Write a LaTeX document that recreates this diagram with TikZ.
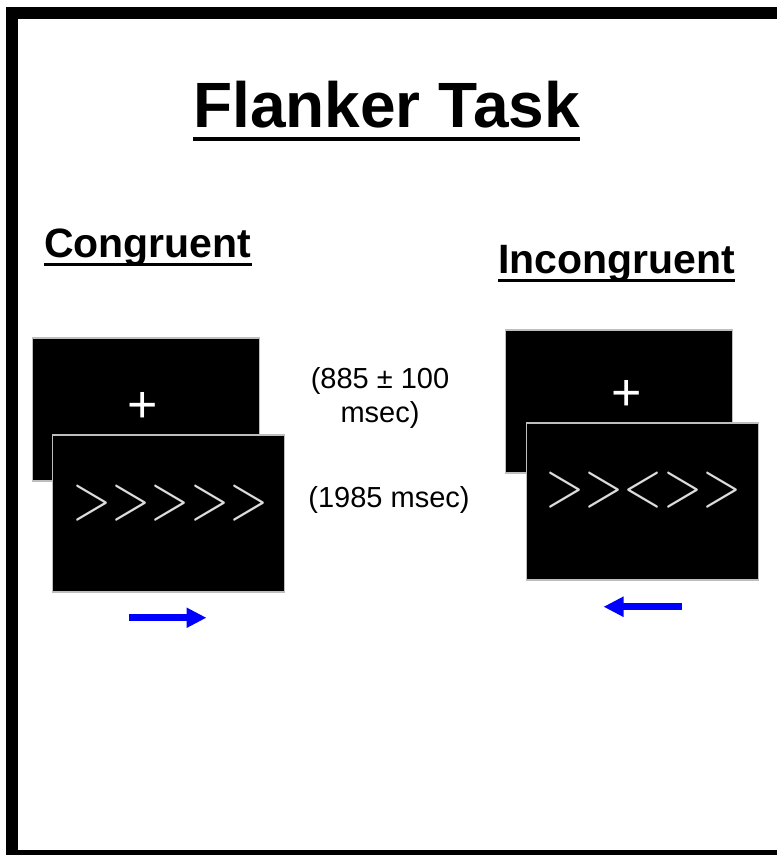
\documentclass[tikz,border=0pt]{standalone}
\usepackage{fontspec}
\setmainfont{Liberation Sans}
\usetikzlibrary{arrows.meta, positioning}
\definecolor{flankerblue}{RGB}{0,0,255}
\definecolor{screenedge}{RGB}{190,190,190}
\definecolor{chevgray}{RGB}{220,220,220}
\newcommand{\rgt}{>\kern0pt}
\newcommand{\lft}{<\kern0pt}

\begin{document}
\begin{tikzpicture}[x=1pt, y=-1pt,
  screen/.style={draw=screenedge, fill=black, line width=1.5pt, inner sep=0pt},
  backscreen/.style={screen, minimum width=227pt, minimum height=143pt},
  frontscreen/.style={screen, minimum width=232pt, minimum height=157pt, anchor=north west},
  heading/.style={font=\bfseries\fontsize{41}{41}\selectfont, inner sep=0pt, anchor=base west},
  timing/.style={font=\fontsize{29}{34}\selectfont, align=center, inner sep=0pt},
  fixcross/.style={text=white, font=\fontsize{52}{52}\selectfont, inner sep=0pt},
  flankers/.style={text=chevgray, inner sep=0pt, font=\fontfamily{lmr}\fontsize{57}{57}\selectfont},
  response/.style={draw=flankerblue, line width=7pt, -{Triangle[length=20pt, width=19pt]}},
  uline/.style={line width=3pt}
]
\useasboundingbox (0,0) rectangle (777,855);
\clip (0,0) rectangle (777,855);
\draw[line width=12pt] (12,13) rectangle (800,856);

% titles
\node[heading, font=\bfseries\fontsize{64}{64}\selectfont] (title) at (193,127) {Flanker Task};
\draw[line width=4pt] ([yshift=-12pt]title.base west) -- ([yshift=-12pt]title.base east);
\node[heading] (congr) at (44,257) {Congruent};
\draw[uline] ([yshift=-7pt]congr.base west) -- ([yshift=-7pt]congr.base east);
\node[heading] (incongr) at (498,273) {Incongruent};
\draw[uline] ([yshift=-7pt]incongr.base west) -- ([yshift=-7pt]incongr.base east);

% congruent trial
\node[backscreen] (cfix) at (146,409.5) {};
\node[fixcross] (cplus) at ([shift={(-3,-2)}]cfix.center) {+};
\node[frontscreen] (cstim) at ([shift={(20,97)}]cfix.north west) {};
\node[flankers] (cflank) at ([shift={(2,-10)}]cstim.center) {\scalebox{0.9}[1.15]{\rgt\rgt\rgt\rgt\rgt}};
\coordinate (cresp0) at ([shift={(-40,25)}]cstim.south);
\coordinate (cresp1) at ([shift={(38,25)}]cstim.south);
\draw[response] (cresp0) -- (cresp1);

% incongruent trial
\node[backscreen] (ifix) at (619,401.5) {};
\node[fixcross] (iplus) at ([shift={(8,-6)}]ifix.center) {+};
\node[frontscreen] (istim) at ([shift={(21,93)}]ifix.north west) {};
\node[flankers] (iflank) at ([shift={(1,-11)}]istim.center) {\scalebox{0.9}[1.15]{\rgt\rgt\lft\rgt\rgt}};
\coordinate (iresp0) at ([shift={(39,26)}]istim.south);
\coordinate (iresp1) at ([shift={(-39,26)}]istim.south);
\draw[response] (iresp0) -- (iresp1);

% durations
\node[timing] (fixtime) at (380,398) {(885 ± 100\\msec)};
\node[timing, anchor=base] (stimtime) at (389,507) {(1985 msec)};
\end{tikzpicture}
\end{document}
